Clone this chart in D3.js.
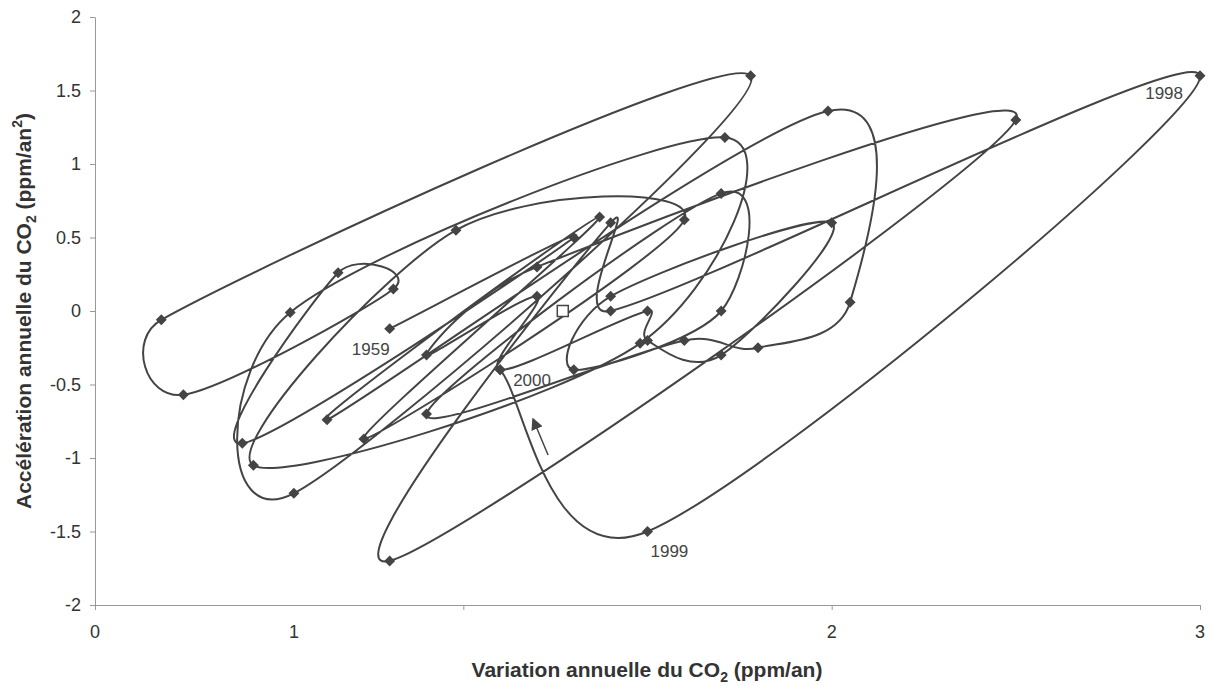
<!DOCTYPE html>
<html>
<head>
<meta charset="utf-8">
<script src="https://cdn.jsdelivr.net/npm/d3@7"></script>
<style>
body{margin:0;background:#fff;}
text{font-family:Arial,"Liberation Sans",sans-serif;}
</style>
</head>
<body>
<svg id="plot" width="1214" height="686"></svg>
<script>
// one point per year : annual CO2 growth (x) and its change from the year before (y)
const years = [1959,1960,1961,1962,1963,1964,1965,1966,1967,1968,1969,1970,1971,1972,1973,1974,1975,1976,1977,1978,1979,
               1980,1981,1982,1983,1984,1985,1986,1987,1988,1989,1990,1991,1992,1993,1994,1995,1996,1997,1998,1999,2000]
const growth = [0.80,1.30,0.40,0.66,0.81,0.24,0.18,1.78,0.54,0.53,1.71,1.48,0.43,0.98,1.60,0.73,1.37,0.63,1.99,2.05,1.80,
                1.60,0.90,1.70,1.70,1.30,1.40,2.00,1.70,1.50,1.50,1.10,1.20,0.90,1.20,2.50,0.80,1.40,1.40,3.00,1.50,1.10]
const accel = [-0.12,0.50,-0.90,0.26,0.15,-0.57,-0.06,1.60,-1.24,-0.01,1.18,-0.22,-1.05,0.55,0.62,-0.87,0.64,-0.74,1.36,0.06,-0.25,
               -0.20,-0.70,0.80,0.00,-0.40,0.10,0.60,-0.30,-0.20,0.00,-0.40,0.10,-0.30,0.30,1.30,-1.70,0.60,0.00,1.60,-1.50,-0.40]
const squareX = [1.27]
const squareY = [0]
const xTicks = [0,1,2,3]
const xTickText = ['0','1','2','3']
const xTickTextAt = [0,0.54,2,3]
const yTicks = [-2,-1.5,-1,-0.5,0,0.5,1,1.5,2]
const labelYears = [1959,2000,1999,1998]
const arrowX = [1.23,1.19]
const arrowY = [-0.98,-0.74]

let svg = d3.select('#plot')
let x = d3.scaleLinear().domain([0,3]).range([95,1200])
let y = d3.scaleLinear().domain([-2,2]).range([605,17])
const ink = '#444'

let pts = years.map((yr,i)=>({year:yr,x:growth[i],y:accel[i]}))

// spreadsheet-like smoothing: bezier arms = neighbour chord / 6, capped at half the segment
const arm = (pa,pb,seg)=>{
    let dx=pb[0]-pa[0], dy=pb[1]-pa[1], d=Math.hypot(dx,dy)
    if(!d) return [0,0]
    let len=Math.min(d/6,seg/2)
    return [dx/d*len,dy/d*len]
}
const smoothCurve = ctx=>{
    let p=[]
    return {
        areaStart(){}, areaEnd(){},
        lineStart(){p=[]},
        point(a,b){p.push([+a,+b])},
        lineEnd(){
            let n=p.length
            if(!n) return
            ctx.moveTo(p[0][0],p[0][1])
            for(let i=0;i<n-1;i++){
                let p0=p[Math.max(i-1,0)], p1=p[i], p2=p[i+1], p3=p[Math.min(i+2,n-1)]
                let seg=Math.hypot(p2[0]-p1[0],p2[1]-p1[1])
                let a=arm(p0,p2,seg), b=arm(p1,p3,seg)
                ctx.bezierCurveTo(p1[0]+a[0],p1[1]+a[1],p2[0]-b[0],p2[1]-b[1],p2[0],p2[1])
            }
        }
    }
}

//axes
let ax = svg.append('g').attr('transform','translate(0,605)')
    .call(d3.axisBottom(x).tickValues(xTicks).tickFormat('').tickSize(5).tickSizeOuter(0))
let ay = svg.append('g').attr('transform','translate(95,0)')
    .call(d3.axisLeft(y).tickValues(yTicks).tickFormat(d=>String(d)).tickSize(5).tickSizeOuter(0))
ax.select('.domain').attr('stroke','#999')
ay.select('.domain').attr('stroke','#999')
svg.selectAll('.tick line').attr('stroke','#999')
ay.selectAll('.tick text').attr('font-size',18).attr('fill','#333').attr('x',-14)
    .style('font-family','Arial,"Liberation Sans",sans-serif')
svg.append('g').selectAll('text').data(xTickText).enter().append('text')
    .attr('x',(d,i)=>x(xTickTextAt[i])).attr('y',638)
    .attr('text-anchor','middle').attr('font-size',18).attr('fill','#333').text(d=>d)

//axis titles
let xt = svg.append('text').attr('x',647).attr('y',677).attr('text-anchor','middle')
    .attr('font-size',21).attr('font-weight','bold').attr('fill','#333')
xt.append('tspan').text('Variation annuelle du CO')
xt.append('tspan').attr('font-size',14).attr('dy',5).text('2')
xt.append('tspan').attr('dy',-5).text(' (ppm/an)')

let yt = svg.append('text').attr('transform','translate(31,311) rotate(-90)').attr('text-anchor','middle')
    .attr('font-size',21).attr('font-weight','bold').attr('fill','#333')
yt.append('tspan').text('Accélération annuelle du CO')
yt.append('tspan').attr('font-size',14).attr('dy',5).text('2')
yt.append('tspan').attr('dy',-5).text(' (ppm/an')
yt.append('tspan').attr('font-size',14).attr('dy',-9).text('2')
yt.append('tspan').attr('dy',9).text(')')

//smoothed trajectory
let line = d3.line().x(d=>x(d.x)).y(d=>y(d.y)).curve(smoothCurve)
svg.append('path').datum(pts).attr('d',line).attr('fill','none').attr('stroke',ink).attr('stroke-width',2)

svg.append('g').selectAll('path').data(pts).enter().append('path')
    .attr('d',d3.symbol(d3.symbolSquare,60))
    .attr('transform',d=>`translate(${x(d.x)},${y(d.y)}) rotate(45)`)
    .attr('fill',ink)

svg.append('g').selectAll('rect').data(squareX).enter().append('rect')
    .attr('x',d=>x(d)-5.5).attr('y',(d,i)=>y(squareY[i])-5.5).attr('width',11).attr('height',11)
    .attr('fill','#fff').attr('stroke',ink).attr('stroke-width',1.5)

//year labels
const labelStyle = {1959:{anchor:'end',dx:0,dy:26},2000:{anchor:'start',dx:13,dy:16},
                    1999:{anchor:'start',dx:3,dy:25},1998:{anchor:'end',dx:-17,dy:23}}
svg.append('g').selectAll('text').data(labelYears).enter().append('text')
    .attr('x',d=>x(pts.find(p=>p.year===d).x)+labelStyle[d].dx)
    .attr('y',d=>y(pts.find(p=>p.year===d).y)+labelStyle[d].dy)
    .attr('text-anchor',d=>labelStyle[d].anchor)
    .attr('font-size',17).attr('fill',ink).text(d=>d)

//arrow
svg.append('defs').append('marker').attr('id','head').attr('viewBox','0 0 10 10')
    .attr('refX',8).attr('refY',5).attr('markerWidth',8).attr('markerHeight',8).attr('orient','auto')
    .append('path').attr('d','M0,0 L10,5 L0,10 z').attr('fill',ink)
svg.append('line').attr('x1',x(arrowX[0])).attr('y1',y(arrowY[0])).attr('x2',x(arrowX[1])).attr('y2',y(arrowY[1]))
    .attr('stroke',ink).attr('stroke-width',1.5).attr('marker-end','url(#head)')
</script>
</body>
</html>
